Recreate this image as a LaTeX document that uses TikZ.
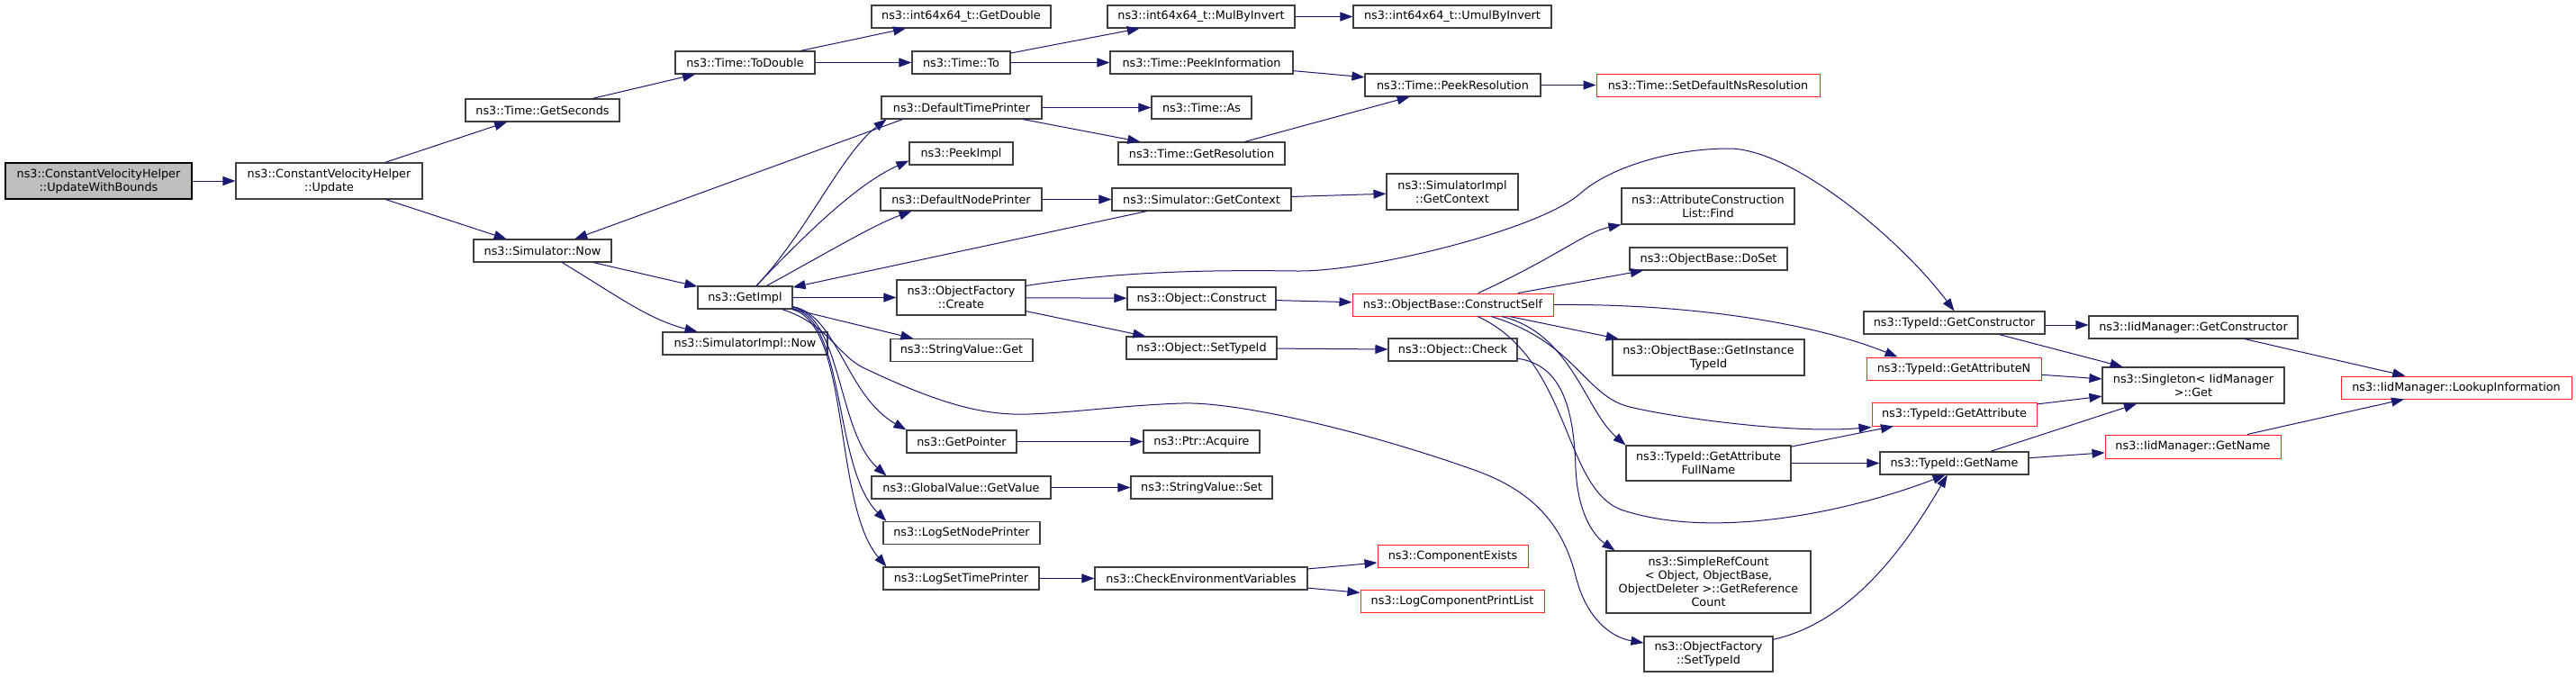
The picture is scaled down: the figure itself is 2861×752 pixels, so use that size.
\documentclass[tikz,border=0pt]{standalone}
\usepackage{fontspec}
\newfontfamily\dvfont{DejaVu Sans}
\usetikzlibrary{arrows.meta}
\definecolor{edgeblue}{HTML}{191970}
\definecolor{boxgray}{HTML}{404040}
\definecolor{boxred}{HTML}{FF2020}
\definecolor{rootfill}{HTML}{BFBFBF}
\tikzset{
  box/.style={draw=boxgray, line width=1.1pt, fill=white, inner sep=0pt, align=center,
    font=\dvfont\fontsize{12.8pt}{15pt}\selectfont},
  rbox/.style={box, draw=boxred, line width=1pt},
  edge/.style={draw=edgeblue, line width=1pt, -{Triangle[length=14pt,width=10pt]}},
}
\begin{document}
\begin{tikzpicture}[x=1pt,y=-1pt]
\useasboundingbox[fill=white] (0,0) rectangle (2861,752);
% column 0/1
\node[box,fill=rootfill,draw=black,minimum width=207pt,minimum height=40pt] (uwb) at (109.5,201) {ns3::ConstantVelocityHelper\\::UpdateWithBounds};
\node[box,minimum width=207pt,minimum height=40pt] (upd) at (365.5,201) {ns3::ConstantVelocityHelper\\::Update};
\node[box,minimum width=171pt,minimum height=25pt] (gsec) at (602.5,122.5) {ns3::Time::GetSeconds};
\node[box,minimum width=153pt,minimum height=25pt] (snow) at (602.5,278.5) {ns3::Simulator::Now};
\node[box,minimum width=155pt,minimum height=25pt] (tdbl) at (827.5,69.5) {ns3::Time::ToDouble};
\node[box,minimum width=105pt,minimum height=25pt] (gimpl) at (827.5,330.5) {ns3::GetImpl};
\node[box,minimum width=183pt,minimum height=25pt] (sinow) at (827.5,381.5) {ns3::SimulatorImpl::Now};
% column 4
\node[box,minimum width=199pt,minimum height=25pt] (gdbl) at (1067.5,18.5) {ns3::int64x64\_t::GetDouble};
\node[box,minimum width=109pt,minimum height=25pt] (tto) at (1067.5,69.5) {ns3::Time::To};
\node[box,minimum width=178pt,minimum height=25pt] (dtp) at (1068,119.5) {ns3::DefaultTimePrinter};
\node[box,minimum width=115pt,minimum height=25pt] (pimpl) at (1067.5,170.5) {ns3::PeekImpl};
\node[box,minimum width=179pt,minimum height=25pt] (dnp) at (1067.5,221.5) {ns3::DefaultNodePrinter};
\node[box,minimum width=143pt,minimum height=39pt] (ofc) at (1067.5,330.5) {ns3::ObjectFactory\\::Create};
\node[box,minimum width=158pt,minimum height=25pt] (svget) at (1068,389) {ns3::StringValue::Get};
\node[box,minimum width=122pt,minimum height=25pt] (gptr) at (1068,490.5) {ns3::GetPointer};
\node[box,minimum width=199pt,minimum height=25pt] (gvgv) at (1067.5,541.5) {ns3::GlobalValue::GetValue};
\node[box,minimum width=174pt,minimum height=25pt] (lsnp) at (1068,592) {ns3::LogSetNodePrinter};
\node[box,minimum width=173pt,minimum height=25pt] (lstp) at (1067.5,642.5) {ns3::LogSetTimePrinter};
% column 5
\node[box,minimum width=208pt,minimum height=25pt] (mbi) at (1334,18.5) {ns3::int64x64\_t::MulByInvert};
\node[box,minimum width=203pt,minimum height=25pt] (pinfo) at (1334.5,69.5) {ns3::Time::PeekInformation};
\node[box,minimum width=111pt,minimum height=25pt] (tas) at (1334.5,119.5) {ns3::Time::As};
\node[box,minimum width=185pt,minimum height=25pt] (gres) at (1334.5,170.5) {ns3::Time::GetResolution};
\node[box,minimum width=199pt,minimum height=25pt] (sgc) at (1334.5,221.5) {ns3::Simulator::GetContext};
\node[box,minimum width=165pt,minimum height=25pt] (ocon) at (1334.5,331.5) {ns3::Object::Construct};
\node[box,minimum width=167pt,minimum height=25pt] (osti) at (1334.5,386.5) {ns3::Object::SetTypeId};
\node[box,minimum width=129pt,minimum height=25pt] (pacq) at (1334.5,490.5) {ns3::Ptr::Acquire};
\node[box,minimum width=157pt,minimum height=25pt] (svset) at (1334.5,541.5) {ns3::StringValue::Set};
\node[box,minimum width=236pt,minimum height=25pt] (cev) at (1334,642.5) {ns3::CheckEnvironmentVariables};
% column 6
\node[box,minimum width=220pt,minimum height=25pt] (umbi) at (1613,18.5) {ns3::int64x64\_t::UmulByInvert};
\node[box,minimum width=195pt,minimum height=25pt] (pres) at (1613.5,94.5) {ns3::Time::PeekResolution};
\node[box,minimum width=146pt,minimum height=40pt] (sigc) at (1613,213) {ns3::SimulatorImpl\\::GetContext};
\node[rbox,minimum width=223pt,minimum height=25pt] (cself) at (1613.5,338.5) {ns3::ObjectBase::ConstructSelf};
\node[box,minimum width=143pt,minimum height=25pt] (ochk) at (1613.5,388.5) {ns3::Object::Check};
\node[rbox,minimum width=167pt,minimum height=25pt] (cexist) at (1613.5,617.5) {ns3::ComponentExists};
\node[rbox,minimum width=204pt,minimum height=25pt] (lcpl) at (1613,667.5) {ns3::LogComponentPrintList};
% column 7
\node[rbox,minimum width=248pt,minimum height=25pt] (sdnr) at (1897,94.5) {ns3::Time::SetDefaultNsResolution};
\node[box,minimum width=192pt,minimum height=40pt] (acl) at (1897,229) {ns3::AttributeConstruction\\List::Find};
\node[box,minimum width=175pt,minimum height=25pt] (dset) at (1897.5,287.5) {ns3::ObjectBase::DoSet};
\node[box,minimum width=213pt,minimum height=40pt] (gitid) at (1897.5,397) {ns3::ObjectBase::GetInstance\\TypeId};
\node[box,minimum width=183pt,minimum height=39pt] (gafn) at (1897.5,514.5) {ns3::TypeId::GetAttribute\\FullName};
\node[box,minimum width=227pt,minimum height=69pt] (src) at (1897.5,646.5) {ns3::SimpleRefCount\\< Object, ObjectBase,\\ ObjectDeleter >::GetReference\\Count};
\node[box,minimum width=143pt,minimum height=39pt] (ofsti) at (1897.5,726.5) {ns3::ObjectFactory\\::SetTypeId};
% column 8
\node[box,minimum width=201pt,minimum height=25pt] (tgc) at (2170.5,358.5) {ns3::TypeId::GetConstructor};
\node[rbox,minimum width=194pt,minimum height=25pt] (gan) at (2170,409.5) {ns3::TypeId::GetAttributeN};
\node[rbox,minimum width=183pt,minimum height=26pt] (gat) at (2170.5,460) {ns3::TypeId::GetAttribute};
\node[box,minimum width=165pt,minimum height=25pt] (gname) at (2170.5,514.5) {ns3::TypeId::GetName};
% column 9/10
\node[box,minimum width=232pt,minimum height=25pt] (imgc) at (2436,363.5) {ns3::IidManager::GetConstructor};
\node[box,minimum width=202pt,minimum height=40pt] (sget) at (2436,428) {ns3::Singleton< IidManager\\ >::Get};
\node[rbox,minimum width=195pt,minimum height=26pt] (imgn) at (2435.5,496) {ns3::IidManager::GetName};
\node[rbox,minimum width=256pt,minimum height=25pt] (lookup) at (2728,430.5) {ns3::IidManager::LookupInformation};

% edges
\draw[edge] (uwb) -- (upd);
\draw[edge] (upd) -- (gsec);
\draw[edge] (upd) -- (snow);
\draw[edge] (gsec) -- (tdbl);
\draw[edge] (tdbl) -- (gdbl);
\draw[edge] (tdbl) -- (tto);
\draw[edge] (tto) -- (mbi);
\draw[edge] (tto) -- (pinfo);
\draw[edge] (mbi) -- (umbi);
\draw[edge] (pinfo) -- (pres);
\draw[edge] (pres) -- (sdnr);
\draw[edge] (gres) -- (pres);
\draw[edge] (dtp) -- (tas);
\draw[edge] (dtp) -- (gres);
\draw[edge] ([xshift=24pt]dtp.south west) -- (snow);
\draw[edge] (snow) -- (gimpl);
\draw[edge] (snow) .. controls (680,325) and (720,355) .. (sinow);
\draw[edge] (gimpl) .. controls (895,260) and (935,170) .. ([xshift=6pt]dtp.south west);
\draw[edge] (gimpl) .. controls (890,265) and (950,205) .. ([yshift=-8pt]pimpl.west);
\draw[edge] (gimpl) .. controls (920,280) and (970,250) .. ([xshift=35pt]dnp.south west);
\draw[edge] (sgc) -- (gimpl);
\draw[edge] (gimpl) -- (ofc);
\draw[edge] (gimpl) -- (svget);
\draw[edge] (gimpl) .. controls (930,350) and (940,440) .. (gptr.north west);
\draw[edge] (gimpl) .. controls (935,352) and (930,480) .. ([xshift=17pt]gvgv.north west);
\draw[edge] (gimpl) .. controls (940,356) and (925,520) .. ([xshift=4pt]lsnp.north west);
\draw[edge] (gimpl) .. controls (945,360) and (925,560) .. ([xshift=4pt]lstp.north west);
\draw[edge] (gimpl) .. controls (920,360) and (930,395) .. (960,409)
   .. controls (1040,447) and (1090,462) .. (1143,460)
   .. controls (1196,458) and (1250,450) .. (1313,448)
   .. controls (1376,446) and (1520,480) .. (1640,523)
   .. controls (1700,545) and (1735,580) .. (1750,640)
   .. controls (1762,688) and (1790,708) .. (ofsti);
\draw[edge] (dnp) -- (sgc);
\draw[edge] (sgc) -- (sigc);
\draw[edge] (ofc) -- (ocon);
\draw[edge] (ofc) -- (osti);
\draw[edge] ([yshift=-7pt]ofc.north east) .. controls (1250,300) and (1360,300) .. (1440,301)
   .. controls (1520,302) and (1710,255) .. (1755,215)
   .. controls (1790,184) and (1860,165) .. (1920,165)
   .. controls (1990,165) and (2110,265) .. (tgc.north);
\draw[edge] (ocon) -- (cself);
\draw[edge] (osti) -- (ochk);
\draw[edge] (ochk) .. controls (1735,405) and (1748,455) .. (1750,520)
   .. controls (1752,570) and (1770,595) .. ([xshift=10pt]src.north west);
\draw[edge] (cself) .. controls (1730,285) and (1760,258) .. (acl.south west);
\draw[edge] (cself) -- (dset);
\draw[edge] (cself) -- (gitid);
\draw[edge] (cself.east) .. controls (1900,337) and (2030,365) .. ([xshift=35pt]gan.north west);
\draw[edge] (cself) .. controls (1745,370) and (1760,455) .. (gafn.north west);
\draw[edge] (cself) .. controls (1750,380) and (1760,440) .. (1810,452)
   .. controls (1860,464) and (1990,482) .. ([yshift=-1pt]gat.south west);
\draw[edge] (cself) .. controls (1745,400) and (1735,540) .. (1800,566)
   .. controls (1900,600) and (2050,570) .. ([xshift=-10pt]gname.south);
\draw[edge] (gafn) -- (gat);
\draw[edge] (gafn) -- (gname);
\draw[edge] (ofsti) .. controls (2060,690) and (2120,600) .. (gname);
\draw[edge] (gan) -- (sget);
\draw[edge] (gat) -- (sget);
\draw[edge] (gname) -- (sget);
\draw[edge] (gname) -- (imgn);
\draw[edge] ([yshift=-2.5pt]tgc.east) -- ([yshift=2.5pt]imgc.west);
\draw[edge] (tgc) -- (sget);
\draw[edge] (imgc) -- (lookup);
\draw[edge] (imgn) -- (lookup);
\draw[edge] (lstp) -- (cev);
\draw[edge] (cev) -- (cexist);
\draw[edge] (cev) -- (lcpl);
\draw[edge] (gptr) -- (pacq);
\draw[edge] (gvgv) -- (svset);
\end{tikzpicture}
\end{document}
